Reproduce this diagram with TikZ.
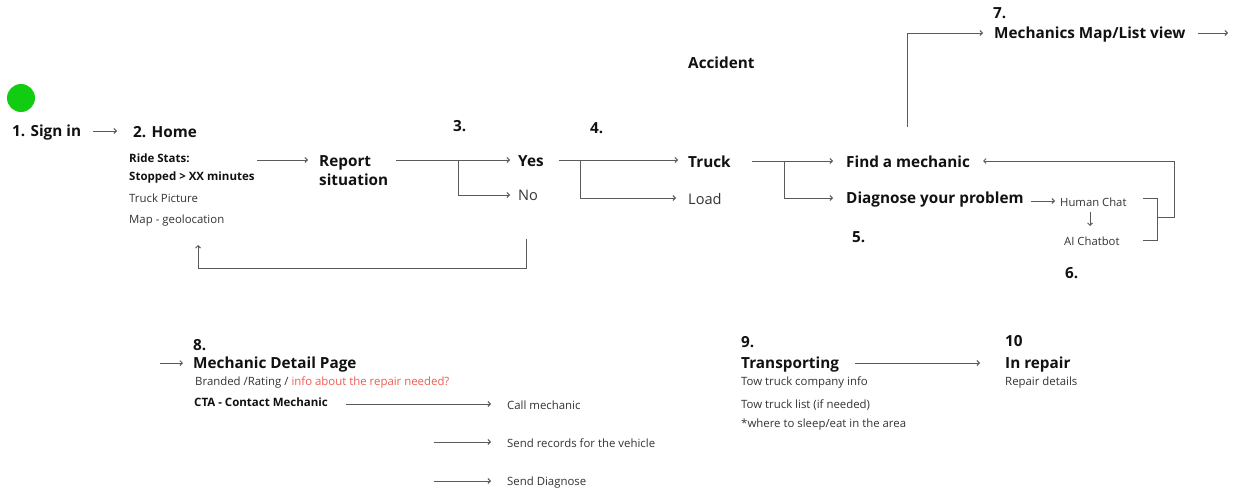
\documentclass[tikz,border=0pt]{standalone}
\usepackage{fontspec}
\setmainfont{Open Sans}
\usetikzlibrary{arrows.meta}
\definecolor{ink}{HTML}{111111}
\definecolor{soft}{HTML}{333333}
\definecolor{wire}{HTML}{5A5A5A}
\definecolor{alert}{HTML}{F05A50}
\definecolor{dot}{HTML}{11CC11}
\tikzset{
  txt/.style={anchor=west,inner sep=0pt,yshift=-1.5pt},
  head/.style={txt,text=ink,font=\fontsize{15.3}{19}\selectfont\bfseries},
  mid/.style={txt,text=soft,font=\fontsize{14.6}{17}\selectfont},
  sub/.style={txt,text=soft,font=\fontsize{11.4}{13}\selectfont},
  subb/.style={txt,text=ink,font=\fontsize{11.5}{13}\selectfont\bfseries},
  tiny/.style={txt,text=soft,font=\fontsize{11.3}{12}\selectfont},
  arr/.style={draw=wire,line width=0.9pt,-{Straight Barb[length=2.5pt,width=5pt]}},
  ln/.style={draw=wire,line width=0.9pt}
}
\begin{document}
\begin{tikzpicture}[x=1pt,y=-1pt]
\useasboundingbox (0,0) rectangle (1236,495);
% green dot
\fill[dot] (21,98) circle (14);
% top row
\node[head] (signin) at (12,131) {1. Sign in};
\node[head] (home) at (133,131) {2. Home};
\node[subb] (stats) at (129,157) {Ride Stats:};
\node[subb] (stopped) at (129,176) {Stopped > XX minutes};
\node[sub] (pic) at (129,197) {Truck Picture};
\node[sub] (map) at (129,219) {Map - geolocation};
\node[head,align=left] (report) at (319,169.5) {Report\\situation};
\node[head] (n3) at (453,125) {3.};
\node[head] (yes) at (518,160) {Yes};
\node[mid] (no) at (518,194) {No};
\node[head] (n4) at (590,127) {4.};
\node[head] (accident) at (688,61) {Accident};
\node[head] (truck) at (688,160) {Truck};
\node[mid] (load) at (688,198) {Load};
\node[head] (find) at (846,160) {Find a mechanic};
\node[head] (diag) at (846,198) {Diagnose your problem};
\node[head] (n5) at (852,236) {5.};
\node[tiny] (human) at (1060,201) {Human Chat};
\node[tiny] (ai) at (1064,240) {AI Chatbot};
\node[head] (n6) at (1065,272) {6.};
\node[head] (n7) at (993,12) {7.};
\node[head] (mapview) at (994,33) {Mechanics Map/List view};
% bottom row
\node[head] (n8) at (193,344) {8.};
\node[head] (detail) at (193,363) {Mechanic Detail Page};
\node[sub] (brand) at (195,381) {Branded /Rating / \textcolor{alert}{info about the repair needed?}};
\node[subb] (cta) at (194,401) {CTA - Contact Mechanic};
\node[sub] (call) at (507,404) {Call mechanic};
\node[sub] (records) at (507,442) {Send records for the vehicle};
\node[sub] (senddiag) at (507,481) {Send Diagnose};
\node[head] (n9) at (741,341) {9.};
\node[head] (transp) at (741,363) {Transporting};
\node[sub] (tow1) at (741,381) {Tow truck company info};
\node[sub] (tow2) at (741,404) {Tow truck list (if needed)};
\node[sub] (tow3) at (741,423) {*where to sleep/eat in the area};
\node[head] (n10) at (1005,340) {10};
\node[head] (repair) at (1005,363) {In repair};
\node[sub] (repdet) at (1005,381) {Repair details};
% connectors
\draw[arr] (93,131) -- (117,131);
\draw[arr] (257,160) -- (308,160);
\draw[arr] (396,160) -- (510,160);
\draw[arr] (458,160) |- (510,195);
\draw[arr] (526,239) -- (526,268) -- (198,268) -- (198,245);
\draw[arr] (559,160) -- (678,160);
\draw[arr] (580,160) |- (676,198);
\draw[arr] (752,161) -- (833,161);
\draw[arr] (784,161) |- (833,198);
\draw[arr] (1031,201) -- (1055,201);
\draw[arr] (1090,212) -- (1090,226);
\draw[ln] (1143,198) -- (1157,198) -- (1157,240) -- (1143,240);
\draw[arr] (1157,217) -- (1174,217) -- (1174,161) -- (983,161);
\draw[arr] (907,127) -- (907,33) -- (983,33);
\draw[arr] (1198,33) -- (1228,33);
\draw[arr] (160,363) -- (183,363);
\draw[arr] (346,404) -- (491,404);
\draw[arr] (434,442) -- (491,442);
\draw[arr] (434,481) -- (491,481);
\draw[arr] (855,363) -- (980,363);
\end{tikzpicture}
\end{document}
